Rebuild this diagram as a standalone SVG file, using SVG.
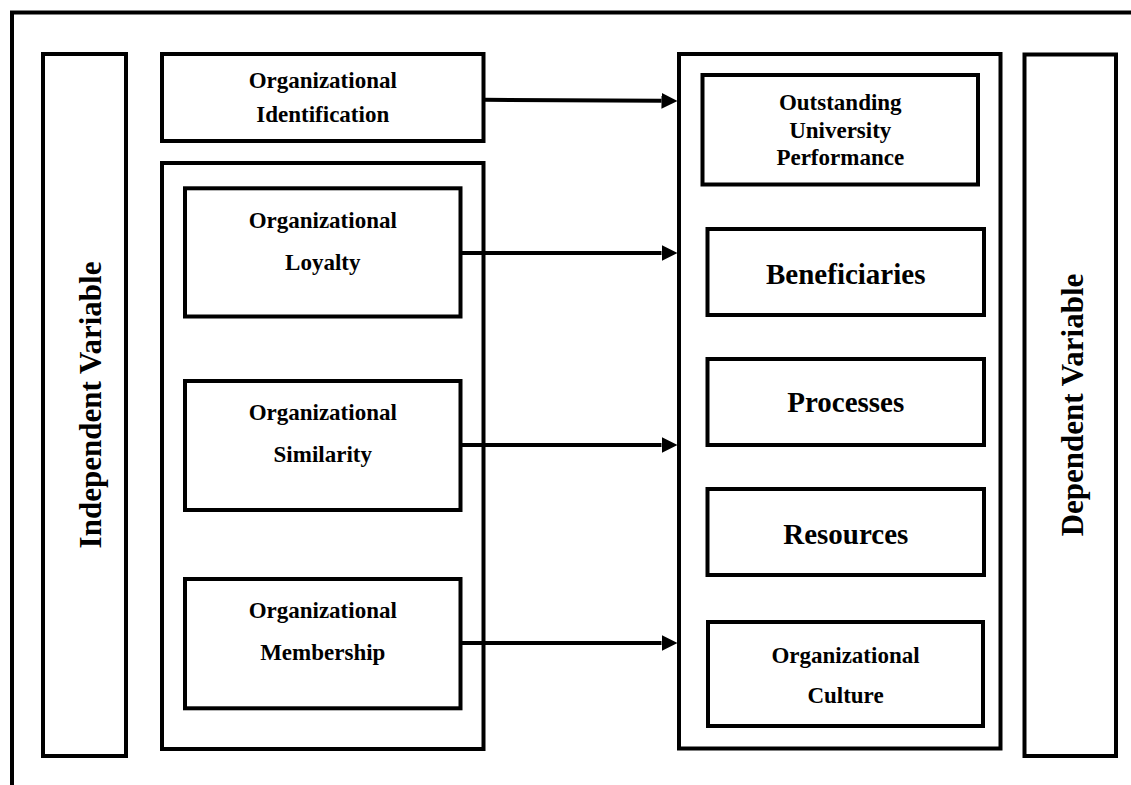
<svg xmlns="http://www.w3.org/2000/svg" width="1131" height="785" viewBox="0 0 1131 785">
  <style>
    .box { fill: #ffffff; stroke: #000000; stroke-width: 4; }
    .frame { fill: none; stroke: #000000; stroke-width: 4; }
    .link { fill: none; stroke: #000000; stroke-width: 4; }
    .lbl { font-family: 'Liberation Serif', 'DejaVu Serif', serif; font-weight: 700; fill: #000000; text-anchor: middle; }
    .sm { font-size: 23px; }
    .lg { font-size: 29px; }
    .vt { font-size: 31px; }
  </style>
  <defs>
    <marker id="head" markerUnits="userSpaceOnUse" markerWidth="17" markerHeight="17" refX="0" refY="8" orient="auto">
      <path d="M0,0 L16,8 L0,16 Z" fill="#000000"/>
    </marker>
  </defs>

  <rect width="1131" height="785" fill="#ffffff"/>

  <!-- page frame: top and left rules -->
  <path class="frame" d="M12,785 V12.5 H1131"/>

  <g font-family="Liberation Serif, DejaVu Serif, serif" font-weight="bold">
  <!-- left column -->
  <g id="independent-variable">
    <rect class="box" x="43" y="54" width="83" height="702"/>
    <text class="lbl vt" transform="translate(101,405) rotate(-90)">Independent Variable</text>
  </g>

  <g id="org-identification">
    <rect class="box" x="162" y="54" width="321.5" height="87"/>
    <text class="lbl sm" x="322.75" y="88">Organizational</text>
    <text class="lbl sm" x="322.75" y="122">Identification</text>
  </g>

  <g id="identification-dimensions">
    <rect class="box" x="162" y="163" width="321.5" height="586"/>
  </g>

  <g id="org-loyalty">
    <rect class="box" x="185" y="188.3" width="275.5" height="128.2"/>
    <text class="lbl sm" x="322.75" y="228">Organizational</text>
    <text class="lbl sm" x="322.75" y="270">Loyalty</text>
  </g>

  <g id="org-similarity">
    <rect class="box" x="185" y="381" width="275.5" height="129"/>
    <text class="lbl sm" x="322.75" y="420">Organizational</text>
    <text class="lbl sm" x="322.75" y="462">Similarity</text>
  </g>

  <g id="org-membership">
    <rect class="box" x="185" y="579" width="275.5" height="129.3"/>
    <text class="lbl sm" x="322.75" y="618">Organizational</text>
    <text class="lbl sm" x="322.75" y="660">Membership</text>
  </g>

  <!-- right column -->
  <g id="performance-dimensions">
    <rect class="box" x="679" y="54" width="321.5" height="694.5"/>
  </g>

  <g id="outstanding-performance">
    <rect class="box" x="702.5" y="75" width="275.5" height="109.5"/>
    <text class="lbl sm" x="840.25" y="110">Outstanding</text>
    <text class="lbl sm" x="840.25" y="138">University</text>
    <text class="lbl sm" x="840.25" y="165">Performance</text>
  </g>

  <g id="beneficiaries">
    <rect class="box" x="707.5" y="229" width="276.5" height="86"/>
    <text class="lbl lg" x="845.75" y="284">Beneficiaries</text>
  </g>

  <g id="processes">
    <rect class="box" x="707.5" y="359" width="276.5" height="86"/>
    <text class="lbl lg" x="845.75" y="412">Processes</text>
  </g>

  <g id="resources">
    <rect class="box" x="707.5" y="489" width="276.5" height="86"/>
    <text class="lbl lg" x="845.75" y="544">Resources</text>
  </g>

  <g id="org-culture">
    <rect class="box" x="708" y="622" width="275" height="104"/>
    <text class="lbl sm" x="845.5" y="663">Organizational</text>
    <text class="lbl sm" x="845.5" y="703">Culture</text>
  </g>

  <g id="dependent-variable">
    <rect class="box" x="1024.5" y="54.5" width="91.5" height="701.5"/>
    <text class="lbl vt" transform="translate(1083,405) rotate(-90)">Dependent Variable</text>
  </g>
  </g>

  <!-- connectors -->
  <g id="connectors">
    <path class="link" d="M483.5,99.8 L661.5,100.8" marker-end="url(#head)"/>
    <path class="link" d="M460.5,253 H661.5" marker-end="url(#head)"/>
    <path class="link" d="M460.5,445 H661.5" marker-end="url(#head)"/>
    <path class="link" d="M460.5,643 H661.5" marker-end="url(#head)"/>
  </g>
</svg>
